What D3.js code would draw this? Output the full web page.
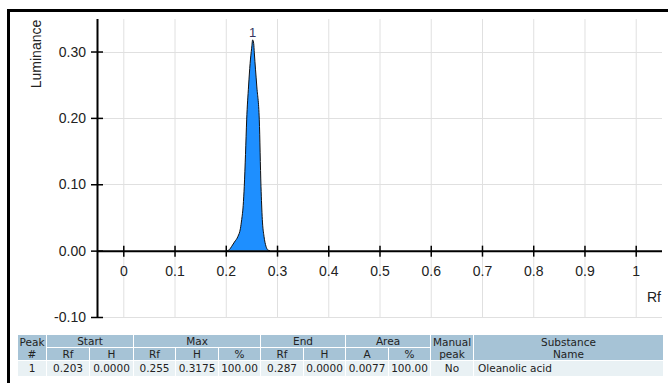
<!DOCTYPE html>
<html>
<head>
<meta charset="utf-8">
<script src="https://cdn.jsdelivr.net/npm/d3@7"></script>
<style>
  html, body { margin: 0; padding: 0; background: #fff; }
  body { width: 668px; height: 383px; position: relative; overflow: hidden; }
  #frame { position: absolute; left: 7px; top: 9px; width: 670px; height: 390px;
           border-top: 3px solid #000; border-left: 3px solid #000; box-sizing: border-box; }
  svg { position: absolute; left: 0; top: 0; }
  svg text { font-family: "Liberation Sans", Arial, sans-serif; fill: #222; }
  table { position: absolute; left: 17px; top: 334px; border-collapse: separate; border-spacing: 1px 1px;
          font-family: "DejaVu Sans", Verdana, sans-serif; font-size: 10.5px; color: #222; table-layout: fixed; }
  th { background: #a6c3d6; font-weight: normal; padding: 0; height: 12px; line-height: 12px; }
  td { background: #e9f1f4; padding: 0; height: 15px; line-height: 15px; text-align: center; }
  td.name { text-align: left; padding-left: 4px; }
</style>
</head>
<body>
<div id="frame"></div>
<svg id="chart" width="668" height="383"></svg>
<table id="peaks"></table>
<script>
  // peak profile (Rf, luminance)
  const peakRf = [0.203, 0.207, 0.2116, 0.217, 0.2238, 0.2285, 0.2311, 0.234, 0.2361, 0.2385, 0.2408, 0.2445, 0.2475, 0.2505,
                  0.2525, 0.2545, 0.2557, 0.2605, 0.2654, 0.2687, 0.2713, 0.2746, 0.2785, 0.282, 0.286];
  const peakH = [0.0, 0.0015, 0.0065, 0.013, 0.0215, 0.033, 0.047, 0.068, 0.097, 0.145, 0.197, 0.248, 0.282, 0.305,
                 0.3175, 0.312, 0.298, 0.248, 0.197, 0.097, 0.047, 0.0215, 0.0065, 0.001, 0.0];
  const peakLabel = { rf: 0.2525, h: 0.3175, text: "1" };

  const xTicks = [0, 0.1, 0.2, 0.3, 0.4, 0.5, 0.6, 0.7, 0.8, 0.9, 1];
  const yTicks = [-0.10, 0.00, 0.10, 0.20, 0.30];

  // results table
  const headTop = [["Peak", 1, 1], ["Start", 2, 0], ["Max", 3, 0], ["End", 2, 0], ["Area", 2, 0], ["Manual", 1, 1], ["Substance", 1, 1]];
  const headSub = ["#", "Rf", "H", "Rf", "H", "%", "Rf", "H", "A", "%", "peak", "Name"];
  const colWidths = [28, 42, 43, 41, 42, 41, 42, 41, 42, 41, 42, 189];
  const rows = [["1", "0.203", "0.0000", "0.255", "0.3175", "100.00", "0.287", "0.0000", "0.0077", "100.00", "No", "Oleanolic acid"]];

  const svg = d3.select("#chart");
  const x = d3.scaleLinear().domain([-0.0513, 1.0513]).range([97, 662]);
  const y = d3.scaleLinear().domain([-0.10, 0.349]).range([317, 19]);

  // grid
  svg.append("g").selectAll("line").data(xTicks).join("line")
    .attr("x1", d => x(d) + 0.5).attr("x2", d => x(d) + 0.5)
    .attr("y1", y(0.349)).attr("y2", y(-0.10))
    .attr("stroke", "#e0e0e0");
  svg.append("g").selectAll("line").data(yTicks.filter(d => d !== 0)).join("line")
    .attr("x1", x(-0.0513)).attr("x2", x(1.0513))
    .attr("y1", d => Math.round(y(d)) + 0.5).attr("y2", d => Math.round(y(d)) + 0.5)
    .attr("stroke", "#e0e0e0");

  // peak
  const pts = peakRf.map((r, i) => [r, peakH[i]]);
  const area = d3.area().x(d => x(d[0])).y0(y(0)).y1(d => y(d[1])).curve(d3.curveMonotoneX);
  const line = d3.line().x(d => x(d[0])).y(d => y(d[1])).curve(d3.curveMonotoneX);
  svg.append("path").datum(pts).attr("d", area).attr("fill", "#1e8fff");
  svg.append("path").datum(pts).attr("d", line).attr("fill", "none").attr("stroke", "#111").attr("stroke-width", 1);
  svg.append("text").attr("x", x(peakLabel.rf)).attr("y", y(peakLabel.h) - 3)
    .attr("text-anchor", "middle").attr("font-size", 13).style("fill", "#33335f").text(peakLabel.text);

  // y axis
  const yAxis = d3.axisLeft(y).tickValues(yTicks).tickFormat(d3.format(".2f")).tickSize(6).tickPadding(5);
  const gy = svg.append("g").attr("transform", `translate(${x(-0.0513)},0)`).call(yAxis);
  gy.select(".domain").attr("d", `M0.5,${y(0.349)}V${y(-0.10)}`).attr("stroke", "#000").attr("stroke-width", 2);
  gy.selectAll(".tick line").attr("x1", -6).attr("x2", 6).attr("stroke", "#000").attr("stroke-width", 1.5);
  gy.selectAll(".tick text").attr("x", -11).style("font-size", "14px")
    .text(d => d < 0 ? "-" + Math.abs(d).toFixed(2) : d.toFixed(2));

  // x axis at H = 0
  const xAxis = d3.axisBottom(x).tickValues(xTicks).tickFormat(d => d === 0 || d === 1 ? String(d) : d.toFixed(1)).tickSize(5).tickPadding(10);
  const gx = svg.append("g").attr("transform", `translate(0,${y(0)})`).call(xAxis);
  gx.select(".domain").attr("d", `M${x(-0.0513)},0.5H${x(1.0513)}`).attr("stroke", "#000").attr("stroke-width", 2);
  gx.selectAll(".tick line").attr("y1", -5).attr("y2", 6).attr("stroke", "#000").attr("stroke-width", 1.5);
  gx.selectAll(".tick text").style("font-size", "14px");

  svg.append("text").attr("x", 661).attr("y", 302).attr("text-anchor", "end").style("font-size", "14px").text("Rf");
  svg.append("text").attr("transform", "translate(41,54) rotate(-90)").attr("text-anchor", "middle")
    .style("font-size", "14px").text("Luminance");

  // table
  const table = d3.select("#peaks");
  table.append("colgroup").selectAll("col").data(colWidths).join("col").style("width", d => d + "px");
  const thead = table.append("thead");
  thead.append("tr").selectAll("th").data(headTop).join("th")
    .attr("colspan", d => d[1]).attr("rowspan", d => d[2] ? 2 : null)
    .html(d => d[2] ? d[0] + "<br>" + headSub[d[0] === "Peak" ? 0 : d[0] === "Manual" ? 10 : 11] : d[0]);
  thead.append("tr").selectAll("th").data(headSub.filter((d, i) => i > 0 && i < 10)).join("th").text(d => d);
  table.append("tbody").selectAll("tr").data(rows).join("tr")
    .selectAll("td").data(d => d).join("td")
    .attr("class", (d, i) => i === 11 ? "name" : null).text(d => d);
</script>
</body>
</html>
